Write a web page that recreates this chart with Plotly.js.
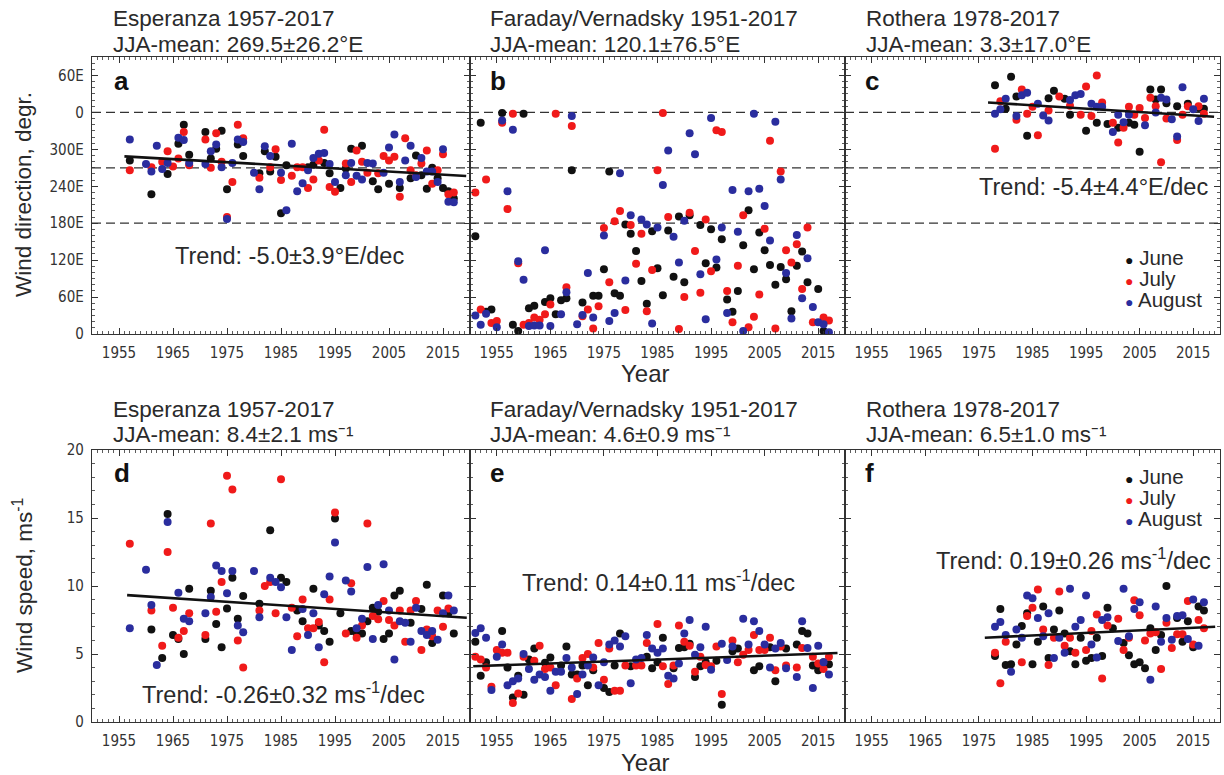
<!DOCTYPE html>
<html><head><meta charset="utf-8">
<script src="https://cdn.plot.ly/plotly-3.0.1.min.js"></script>
<style>html,body{margin:0;padding:0;background:#fff}#chart{width:1224px;height:775px}</style>
</head><body><div id="chart"></div>
<script>
// ---------- DATA ----------
// Panel a: Esperanza wind direction (deg, values >360 = wrapped past north)
const aJunYr = [1957,1961,1964,1966,1967,1968,1971,1972,1973,1974,1975,1977,1978,1981,1982,1983,1984,1985,1986,1990,1991,1993,1994,1996,1997,1998,2000,2002,2003,2005,2007,2009,2010,2011,2012,2013,2014,2015,2016,2017];
const aJunVal = [282,227,260,309,340,291,328,285,301,330,235,308,289,261,297,264,288,196,274,271,275,278,261,237,269,301,306,248,235,244,237,253,290,258,236,270,253,237,232,220];
const aJulYr = [1957,1961,1963,1964,1965,1966,1967,1968,1971,1972,1973,1974,1975,1976,1977,1978,1981,1983,1984,1985,1987,1988,1989,1990,1991,1992,1993,1994,1995,1997,1998,1999,2000,2001,2003,2004,2005,2006,2007,2008,2009,2010,2011,2012,2013,2014,2015,2016,2017];
const aJulVal = [266,271,280,297,272,285,328,274,316,270,326,280,190,247,340,318,254,271,300,250,257,271,271,237,251,282,332,239,231,277,247,298,280,262,261,289,282,288,223,318,266,258,277,298,244,266,292,227,230];
const aAugYr = [1957,1960,1961,1962,1963,1964,1966,1967,1968,1971,1972,1973,1974,1975,1976,1977,1978,1980,1981,1982,1983,1985,1986,1987,1988,1989,1990,1991,1992,1993,1994,1995,1997,1998,1999,2000,2001,2002,2004,2005,2006,2007,2008,2009,2010,2011,2012,2013,2014,2015,2016,2017];
const aAugVal = [316,276,264,306,268,278,319,315,278,276,297,308,271,187,278,316,312,262,235,305,289,262,201,309,232,245,266,286,293,294,276,247,258,278,257,251,278,277,262,303,324,247,282,306,255,286,264,264,247,300,215,214];
const aTrendYr = [1956, 2019.3];
const aTrendVal = [288.5, 256.8];

// Panel b: Faraday/Vernadsky wind direction
const bJunYr = [1951,1952,1953,1954,1956,1958,1959,1960,1961,1962,1964,1965,1966,1967,1968,1969,1971,1973,1974,1975,1976,1977,1978,1979,1980,1981,1982,1983,1984,1985,1986,1987,1988,1989,1990,1991,1993,1994,1995,1996,1997,1998,1999,2000,2001,2002,2003,2004,2005,2006,2007,2008,2009,2010,2011,2012,2013,2015,2016];
const bJunVal = [159,343,36,40,359,15,5,358,42,46,52,58,32,55,58,266,51,62,62,105,264,66,62,178,163,135,86,49,167,107,63,168,93,191,84,193,177,115,170,108,154,56,36,70,144,201,105,165,136,112,80,109,89,37,111,134,84,73,5];
const bJulYr = [1951,1952,1953,1954,1955,1956,1957,1958,1959,1960,1961,1962,1963,1964,1965,1966,1968,1969,1971,1972,1973,1974,1975,1976,1977,1978,1979,1980,1981,1982,1983,1984,1985,1986,1987,1989,1990,1991,1992,1993,1994,1995,1996,1997,1998,1999,2000,2001,2002,2003,2004,2005,2006,2007,2008,2009,2010,2011,2012,2013,2014,2016,2017];
const bJulVal = [230,40,251,18,21,343,203,358,115,15,18,27,23,32,48,358,76,338,29,40,9,45,172,84,183,200,39,177,114,163,37,104,266,359,190,8,60,197,135,67,186,102,331,328,70,19,111,193,11,28,64,171,314,9,264,136,116,146,73,173,19,27,22];
const bAugYr = [1951,1952,1953,1955,1956,1957,1958,1959,1960,1961,1962,1963,1964,1965,1967,1968,1969,1970,1971,1972,1973,1975,1976,1977,1978,1979,1980,1982,1983,1984,1985,1986,1987,1988,1989,1990,1991,1992,1993,1994,1995,1996,1997,1998,1999,2000,2001,2002,2003,2004,2005,2006,2007,2008,2009,2010,2011,2012,2013,2014,2015,2016,2017];
const bAugVal = [30,15,33,11,347,232,332,118,88,13,14,14,136,13,32,68,354,16,31,99,27,160,21,34,261,87,193,186,178,17,173,242,298,158,116,184,326,292,97,24,351,121,173,34,234,166,5,232,358,236,208,152,345,251,99,25,161,58,123,44,19,16,3];

// Panel c: Rothera wind direction
const cJunYr = [1978,1980,1981,1982,1984,1988,1989,1991,1992,1995,1997,1999,2001,2003,2004,2005,2007,2008,2009,2010,2012,2014,2016,2017];
const cJunVal = [404,366,418,386,322,383,395,382,356,330,343,341,335,343,340,296,397,381,397,375,370,374,367,366];
const cJulYr = [1978,1979,1982,1983,1984,1985,1986,1988,1990,1992,1994,1995,1996,1997,1998,2000,2001,2002,2003,2004,2005,2006,2007,2008,2009,2010,2012,2013,2014,2016,2017];
const cJulVal = [301,378,348,397,358,369,323,363,386,371,356,402,354,420,376,343,311,335,369,356,367,351,384,370,279,350,315,356,370,370,358];
const cAugYr = [1978,1979,1980,1982,1983,1984,1986,1987,1988,1992,1993,1994,1996,1997,1998,2000,2001,2002,2003,2006,2008,2009,2010,2011,2012,2013,2015,2016,2017];
const cAugVal = [358,365,382,354,388,392,374,355,347,380,388,390,374,369,369,328,356,344,356,339,360,384,381,349,321,401,365,346,382];
const cTrendYr = [1976.7, 2018.9];
const cTrendVal = [376, 353];

// Panel d: Esperanza wind speed (m/s)
const dJunYr = [1961,1963,1964,1965,1966,1967,1968,1971,1972,1973,1974,1975,1976,1977,1978,1981,1983,1985,1986,1988,1989,1991,1992,1993,1994,1995,1996,1998,1999,2000,2001,2002,2003,2004,2005,2006,2007,2009,2011,2012,2013,2015,2016,2017];
const dJunVal = [6.8,4.7,15.3,6.4,6.1,5.0,9.8,6.1,9.65,7.2,5.5,8.35,10.6,7.6,9.26,8.7,14.1,10.6,10.3,8.2,7.4,9.8,7.1,6.7,5.9,14.96,8.0,6.7,6.5,6.5,7.4,8.4,8.1,6.1,6.5,9.3,9.65,7.3,8.3,10.1,5.8,9.3,8.0,6.5];
const dJulYr = [1957,1961,1963,1964,1965,1966,1967,1968,1971,1972,1973,1974,1975,1976,1977,1978,1981,1982,1983,1984,1985,1987,1988,1989,1990,1991,1992,1993,1994,1995,1997,1998,1999,2000,2001,2002,2003,2004,2005,2006,2007,2008,2009,2010,2011,2012,2013,2014,2015,2016];
const dJulVal = [13.1,8.2,5.6,12.5,8.4,6.2,6.7,8.0,6.4,14.6,8.1,10.3,18.1,17.1,6.0,4.0,8.2,10.0,10.3,8.0,17.85,8.4,6.3,9.0,6.9,6.9,7.35,4.4,9.0,15.4,6.5,10.2,6.2,7.1,14.6,7.8,7.55,8.9,7.5,7.1,8.2,5.9,8.2,8.9,5.3,6.8,6.3,8.2,7.0,8.35];
const dAugYr = [1957,1960,1961,1962,1964,1966,1967,1968,1971,1972,1973,1974,1975,1976,1977,1978,1980,1981,1983,1984,1985,1986,1987,1989,1990,1991,1992,1993,1994,1995,1997,1998,1999,2000,2001,2002,2003,2004,2005,2006,2007,2008,2009,2010,2011,2012,2013,2014,2015,2016,2017];
const dAugVal = [6.9,11.2,8.6,4.2,14.7,9.5,7.6,7.4,8.0,9.2,11.5,11.1,9.46,11.1,7.1,6.6,11.1,7.7,10.6,10.3,9.9,7.7,5.3,8.3,6.4,8.0,5.5,9.4,10.7,13.2,10.4,9.6,6.9,7.6,11.4,6.1,8.6,11.6,8.2,4.6,7.4,7.3,5.9,8.4,6.7,6.4,6.7,6.05,8.0,9.3,8.2];
const dTrendYr = [1956.5, 2019.4];
const dTrendVal = [9.33, 7.67];

// Panel e: Faraday/Vernadsky wind speed
const eJunYr = [1951,1952,1953,1956,1957,1958,1959,1960,1961,1962,1964,1965,1967,1968,1969,1970,1971,1972,1973,1975,1976,1977,1978,1980,1983,1984,1985,1986,1988,1989,1990,1991,1992,1993,1994,1996,1997,1999,2000,2003,2004,2006,2007,2009,2011,2012,2013,2014,2015,2016,2017];
const eJunVal = [5.9,3.4,4.4,6.7,4.0,1.8,3.4,2.0,4.6,5.4,4.35,4.75,4.15,5.55,3.5,3.5,4.15,2.7,3.8,2.5,2.2,4.15,6.5,4.1,4.8,3.95,4.4,6.2,3.95,5.45,5.5,5.75,3.3,4.1,4.4,4.5,1.26,5.2,5.4,3.8,4.1,5.5,3.0,5.4,5.7,6.7,6.5,4.15,3.8,4.4,4.25];
const eJulYr = [1951,1952,1953,1954,1955,1956,1957,1958,1959,1960,1962,1963,1964,1965,1966,1969,1970,1971,1972,1973,1974,1975,1976,1977,1978,1979,1981,1982,1983,1985,1986,1987,1988,1989,1990,1991,1992,1993,1994,1995,1996,1997,1999,2000,2001,2002,2003,2004,2005,2006,2007,2008,2009,2011,2012,2014,2015,2016,2017];
const eJulVal = [4.8,4.6,4.0,2.6,5.3,5.1,5.1,1.4,2.1,4.8,4.5,5.6,3.9,4.0,2.7,1.7,3.2,4.7,5.0,4.0,5.8,3.1,5.4,2.3,2.3,4.15,4.15,4.15,5.8,7.2,4.1,2.8,4.15,7.1,5.9,5.6,3.7,4.8,4.2,4.1,5.55,2.05,6.0,4.4,4.95,5.3,6.4,5.3,5.3,6.2,3.8,5.55,4.15,4.0,5.45,4.8,4.3,3.9,4.8];
const eAugYr = [1951,1952,1953,1954,1955,1956,1957,1958,1959,1960,1961,1962,1963,1964,1965,1966,1967,1968,1969,1970,1971,1972,1973,1974,1975,1976,1977,1978,1979,1980,1981,1982,1983,1984,1985,1986,1987,1988,1989,1990,1991,1992,1993,1994,1995,1997,1998,1999,2001,2002,2003,2004,2005,2006,2007,2008,2009,2011,2012,2013,2014,2015,2016,2017];
const eAugVal = [6.55,6.9,6.2,2.35,4.8,5.7,2.7,3.0,3.2,5.0,3.9,3.1,3.5,3.3,2.3,3.7,3.7,4.7,4.0,2.05,3.5,4.15,4.75,2.7,4.4,5.7,6.0,5.55,6.3,2.85,4.6,4.7,6.4,5.4,5.1,5.4,3.4,3.2,4.3,6.5,7.5,4.95,5.5,7.0,3.85,5.75,4.55,5.55,7.6,5.7,7.4,6.7,5.7,4.0,5.4,5.8,3.95,3.3,7.4,5.45,2.5,5.6,4.4,3.5];
const eTrendYr = [1950.6, 2018.6];
const eTrendVal = [4.1, 5.07];

// Panel f: Rothera wind speed
const fJunYr = [1978,1979,1980,1981,1982,1983,1984,1985,1986,1987,1988,1989,1990,1991,1992,1993,1994,1995,1996,1997,1998,1999,2000,2002,2003,2004,2005,2006,2007,2008,2009,2010,2012,2013,2014,2015,2016,2017];
const fJunVal = [4.85,8.3,4.2,4.25,5.7,7.06,8.0,4.25,5.9,8.5,4.7,6.8,8.2,6.5,5.2,4.25,6.2,4.5,4.7,6.2,4.85,8.4,6.9,5.8,4.9,4.25,4.4,3.95,6.9,5.3,6.4,10.0,7.65,5.9,7.4,5.5,8.5,8.2];
const fJulYr = [1978,1979,1980,1983,1984,1985,1986,1987,1988,1989,1990,1991,1992,1993,1995,1996,1997,1998,1999,2001,2002,2003,2004,2005,2006,2007,2008,2009,2010,2011,2012,2013,2014,2015,2016,2017];
const fJulVal = [5.1,2.85,5.9,4.4,7.8,8.4,9.75,6.8,4.2,6.2,9.6,5.6,6.2,5.1,5.3,6.7,7.9,3.2,7.1,7.6,5.3,6.2,8.96,7.85,6.0,6.5,6.6,3.9,7.3,5.45,6.45,6.45,8.9,5.7,7.5,6.9];
const fAugYr = [1978,1979,1980,1981,1982,1983,1984,1985,1986,1987,1988,1989,1990,1991,1992,1993,1994,1995,1996,1997,1998,1999,2001,2002,2003,2004,2005,2007,2008,2009,2010,2011,2012,2013,2014,2015,2016,2017];
const fAugVal = [7.0,7.35,6.4,3.7,6.8,6.2,9.3,9.1,7.65,6.3,8.0,4.7,6.2,5.1,9.8,7.0,7.5,9.3,5.7,4.75,7.5,7.7,5.95,9.8,6.3,8.3,8.8,3.1,8.5,5.9,7.65,6.05,7.8,7.85,6.1,9.0,5.6,8.8];
const fTrendYr = [1976.1, 2019.1];
const fTrendVal = [6.2, 7.0];

// Axis tick labels / reference lines
const dirTickVals = [0,60,120,180,240,300,360,420];
const dirTickText = ['0','60E','120E','180E','240E','300E','0','60E'];
const dirRefLines = [180,270,360];
const months = ['June','July','August'];

// ---------- STYLE ----------
const COL = ['#111111','#f01a1a','#2a2d9e'];
const FONT = 'Liberation Sans, Arial, sans-serif';
const NARROW = 'Liberation Sans Narrow, Arial Narrow, DejaVu Sans Condensed, sans-serif';
const L=92, R=1220, T=57, B=722;
const px = x => (x-L)/(R-L);
const py = y => (B-y)/(B-T);

const traces = [];
function addPanel(sets, trend, ax) {
  sets.forEach((s,i) => traces.push({type:'scatter', mode:'markers', x:s[0], y:s[1], xaxis:'x'+ax, yaxis:'y'+ax,
    marker:{color:COL[i], size:8, line:{width:0}}, showlegend:false, hoverinfo:'skip'}));
  if (trend) traces.push({type:'scatter', mode:'lines', x:trend[0], y:trend[1], xaxis:'x'+ax, yaxis:'y'+ax,
    line:{color:'#111', width:2.6}, showlegend:false, hoverinfo:'skip'});
}
addPanel([[aJunYr,aJunVal],[aJulYr,aJulVal],[aAugYr,aAugVal]], [aTrendYr,aTrendVal], '');
addPanel([[bJunYr,bJunVal],[bJulYr,bJulVal],[bAugYr,bAugVal]], null, '2');
addPanel([[cJunYr,cJunVal],[cJulYr,cJulVal],[cAugYr,cAugVal]], [cTrendYr,cTrendVal], '3');
addPanel([[dJunYr,dJunVal],[dJulYr,dJulVal],[dAugYr,dAugVal]], [dTrendYr,dTrendVal], '4');
addPanel([[eJunYr,eJunVal],[eJulYr,eJulVal],[eAugYr,eAugVal]], [eTrendYr,eTrendVal], '5');
addPanel([[fJunYr,fJunVal],[fJulYr,fJulVal],[fAugYr,fAugVal]], [fTrendYr,fTrendVal], '6');

const xDom = [[0,px(470)],[px(470),px(845)],[px(845),1]];
const yTop = [py(334),1], yBot = [0,py(450)];

function xAx(i, anchor) {
  return {domain:xDom[i], anchor, range:[1950,2020], tick0:1955, dtick:10, ticks:'inside', ticklen:6, tickwidth:1,
    tickcolor:'#333', minor:{dtick:1, tick0:1950, ticks:'inside', ticklen:3, tickcolor:'#333', tickwidth:0.8},
    mirror:'allticks', showline:true, linecolor:'#333', linewidth:1.2, showgrid:false, zeroline:false,
    ticklabelstandoff:5, tickfont:{family:NARROW, size:15, color:'#333'}};
}
function yAx(top, anchor, labels) {
  const base = {domain: top?yTop:yBot, anchor, ticks:'inside', ticklen:6, tickwidth:1, tickcolor:'#333',
    mirror:'allticks', showline:true, linecolor:'#333', linewidth:1.2, showgrid:false, zeroline:false,
    showticklabels:labels, ticklabelstandoff:4, tickfont:{family:NARROW, size:15, color:'#333'}};
  if (top) Object.assign(base, {range:[0,450], tickmode:'array', tickvals:dirTickVals, ticktext:dirTickText,
    minor:{dtick:10, tick0:0, ticks:'inside', ticklen:3, tickcolor:'#333', tickwidth:0.8}});
  else Object.assign(base, {range:[0,20], tick0:0, dtick:5,
    minor:{dtick:1, tick0:0, ticks:'inside', ticklen:3, tickcolor:'#333', tickwidth:0.8}});
  return base;
}

const shapes = [];
['y','y2','y3'].forEach((ya,i) => dirRefLines.forEach(v => shapes.push({type:'line', layer:'below',
  xref:['x','x2','x3'][i]+' domain', x0:0, x1:1, yref:ya, y0:v, y1:v, line:{color:'#333', width:1.3, dash:'9px,5px'}})));

const anns = [];
function txt(text, x, y, o) {
  anns.push(Object.assign({xref:'paper', yref:'paper', x:px(x), y:py(y), text, showarrow:false,
    xanchor:'left', yanchor:'middle', borderpad:0, font:{family:FONT, size:23.5, color:'#2a2a2a'}}, o||{}));
}
// panel titles (two tight lines each)
const TF = {font:{family:FONT, size:22.5, color:'#2a2a2a'}};
txt('Esperanza 1957-2017', 112, 19, TF); txt('JJA-mean: 269.5±26.2°E', 112, 44, TF);
txt('Faraday/Vernadsky 1951-2017', 489, 19, TF); txt('JJA-mean: 120.1±76.5°E', 489, 44, TF);
txt('Rothera 1978-2017', 865, 19, TF); txt('JJA-mean: 3.3±17.0°E', 865, 44, TF);
txt('Esperanza 1957-2017', 112, 409, TF); txt('JJA-mean: 8.4±2.1 ms⁻¹', 112, 434, TF);
txt('Faraday/Vernadsky 1951-2017', 489, 409, TF); txt('JJA-mean: 4.6±0.9 ms⁻¹', 489, 434, TF);
txt('Rothera 1978-2017', 865, 409, TF); txt('JJA-mean: 6.5±1.0 ms⁻¹', 865, 434, TF);
// panel letters
[['a',113,81],['b',489,81],['c',864,81],['d',113,473],['e',489,473],['f',864,473]].forEach(p =>
  txt('<b>'+p[0]+'</b>', p[1], p[2], {font:{family:FONT, size:26, color:'#111'}}));
// trend labels
txt('Trend: -5.0±3.9°E/dec', 289, 256, {xanchor:'center'});
txt('Trend: -5.4±4.4°E/dec', 1093, 187, {xanchor:'center'});
txt('Trend: -0.26±0.32 ms<sup>-1</sup>/dec', 283, 693, {xanchor:'center'});
txt('Trend: 0.14±0.11 ms<sup>-1</sup>/dec', 658, 581, {xanchor:'center'});
txt('Trend: 0.19±0.26 ms<sup>-1</sup>/dec', 1073, 559, {xanchor:'center'});
// legends (dot + label in one text)
[[257,278,299],[476,497,518]].forEach(rows => rows.forEach((yy,i) => {
  txt('<span style="color:'+COL[i]+';font-size:14px">●</span> '+months[i], 1124, yy,
      {font:{family:FONT, size:20.5, color:'#2a2a2a'}});
}));
// axis titles
txt('Wind direction, degr.', 23, 195, {xanchor:'center', textangle:-90, font:{family:FONT, size:22.5, color:'#2a2a2a'}});
txt('Wind speed, ms<sup>-1</sup>', 23, 586, {xanchor:'center', textangle:-90, font:{family:FONT, size:22.5, color:'#2a2a2a'}});
txt('Year', 645, 373, {xanchor:'center', font:{family:FONT, size:24, color:'#2a2a2a'}});
txt('Year', 645, 762, {xanchor:'center', font:{family:FONT, size:24, color:'#2a2a2a'}});

const layout = {
  width:1224, height:775, margin:{l:L, r:1224-R, t:T, b:775-B}, paper_bgcolor:'#fff', plot_bgcolor:'#fff',
  showlegend:false, font:{family:FONT},
  xaxis:xAx(0,'y'), xaxis2:xAx(1,'y2'), xaxis3:xAx(2,'y3'),
  xaxis4:xAx(0,'y4'), xaxis5:xAx(1,'y5'), xaxis6:xAx(2,'y6'),
  yaxis:yAx(true,'x',true), yaxis2:yAx(true,'x2',false), yaxis3:yAx(true,'x3',false),
  yaxis4:yAx(false,'x4',true), yaxis5:yAx(false,'x5',false), yaxis6:yAx(false,'x6',false),
  shapes, annotations:anns
};
Plotly.newPlot('chart', traces, layout, {staticPlot:true, displayModeBar:false});
</script></body></html>
